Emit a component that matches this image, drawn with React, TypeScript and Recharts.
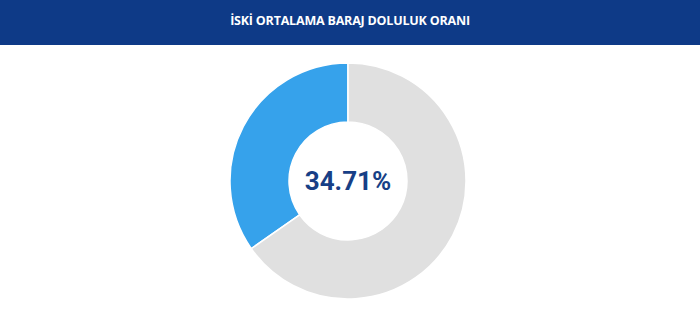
import { PieChart, Pie, Cell, Label } from 'recharts';

const title = 'İSKİ ORTALAMA BARAJ DOLULUK ORANI';
const sliceNames = ['Doluluk', 'Boş'];
const sliceValues = [34.71, 65.29];
const sliceColors = ['#36a2eb', '#e0e0e0'];

const data = sliceNames.map((name, i) => ({ name, value: sliceValues[i] }));

const CX = 348;
const CY = 181;

const renderCenter = () => (
  <text
    x={CX}
    y={CY}
    textAnchor="middle"
    dominantBaseline="central"
    fill="#173f86"
    style={{ fontFamily: 'Roboto, sans-serif', fontWeight: 700, fontSize: 26 }}
  >
    {`${sliceValues[0].toFixed(2)}%`}
  </text>
);

export default function App() {
  return (
    <div
      style={{
        position: 'absolute',
        top: 0,
        left: 0,
        width: 700,
        height: 328,
        background: '#fff',
        overflow: 'hidden',
      }}
    >
      <div
        style={{
          position: 'absolute',
          top: 0,
          left: 0,
          width: 700,
          height: 45,
          background: '#0e3a87',
          color: '#fff',
          fontFamily: '"Open Sans", sans-serif',
          fontWeight: 700,
          fontSize: 12.5,
          lineHeight: '41px',
          textAlign: 'center',
          letterSpacing: -0.2,
        }}
      >
        {title}
      </div>
      <div style={{ position: 'absolute', top: 0, left: 0 }}>
        <PieChart width={700} height={328} margin={{ top: 0, right: 0, bottom: 0, left: 0 }}>
          <Pie
            data={data}
            dataKey="value"
            nameKey="name"
            cx={CX}
            cy={CY}
            innerRadius={59}
            outerRadius={118}
            startAngle={90}
            endAngle={450}
            stroke="#fff"
            strokeWidth={1.5}
            isAnimationActive={false}
          >
            {data.map((d, i) => (
              <Cell key={d.name} fill={sliceColors[i]} />
            ))}
            <Label position="center" content={renderCenter} />
          </Pie>
        </PieChart>
      </div>
    </div>
  );
}
